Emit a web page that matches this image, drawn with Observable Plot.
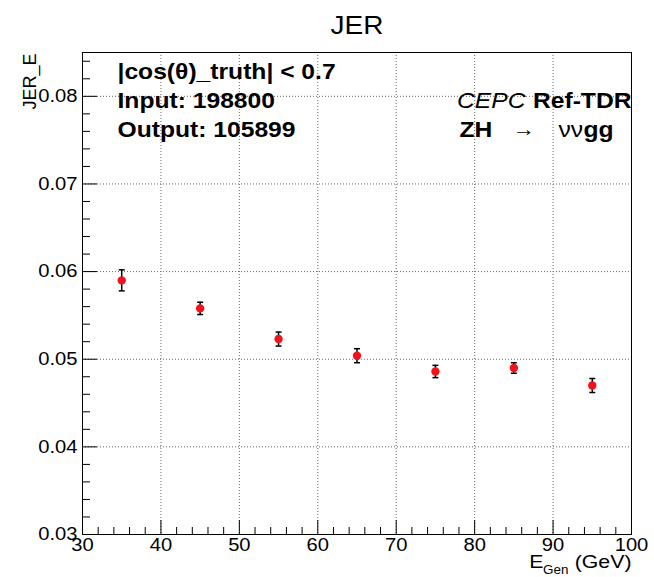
<!DOCTYPE html>
<html><head><meta charset="utf-8">
<script src="https://cdn.jsdelivr.net/npm/d3@7"></script>
<script src="https://cdn.jsdelivr.net/npm/@observablehq/plot@0.6"></script>
<style>html,body{margin:0;padding:0;background:#fff} svg{display:block}</style>
</head><body><div id="chart"></div>
<script>
// ---- data ----
const energyGeV = [35, 45, 55, 65, 75, 85, 95];
const jerValues = [0.0590, 0.0558, 0.0523, 0.0504, 0.0486, 0.0490, 0.0470];
const jerErrors = [0.0012, 0.0007, 0.0008, 0.0008, 0.0007, 0.0006, 0.0008];

const xMajorTicks = [30, 40, 50, 60, 70, 80, 90, 100];
const xMinorTicks = [32,34,36,38,42,44,46,48,52,54,56,58,62,64,66,68,72,74,76,78,82,84,86,88,92,94,96,98];
const yMajorTicks = [0.03, 0.04, 0.05, 0.06, 0.07, 0.08];
const yMinorTicks = [0.032,0.034,0.036,0.038,0.042,0.044,0.046,0.048,0.052,0.054,0.056,0.058,0.062,0.064,0.066,0.068,0.072,0.074,0.076,0.078,0.082,0.084];
const xGridTicks = [40, 50, 60, 70, 80, 90];
const yGridTicks = [0.04, 0.05, 0.06, 0.07, 0.08];

const titleText = "JER";
const yTitle = "JER_E";
const infoLines = ["|cos(θ)_truth| < 0.7", "Input: 198800", "Output: 105899"];

const rows = energyGeV.map((e, i) => ({e, v: jerValues[i], lo: jerValues[i] - jerErrors[i], hi: jerValues[i] + jerErrors[i]}));

const capSymbol = {draw(ctx) { ctx.moveTo(-3, 0); ctx.lineTo(3, 0); }};
const FONT = "'Liberation Sans', Arial, Helvetica, sans-serif";
const gridStyle = {stroke: "#666", strokeOpacity: 1, strokeDasharray: "1,2", strokeWidth: 1};
const label = (t, o) => Plot.text([t], {text: d => d, ...o});

const chart = Plot.plot({
  width: 654, height: 577,
  marginLeft: 82, marginRight: 23, marginTop: 52, marginBottom: 43,
  x: {domain: [30, 100]},
  y: {domain: [0.03, 0.085]},
  style: {fontFamily: FONT, background: "white", color: "black", overflow: "visible"},
  marks: [
    Plot.gridX(xGridTicks, gridStyle),
    Plot.gridY(yGridTicks, gridStyle),
    Plot.axisX(xMinorTicks, {tickSize: -7, tickFormat: () => "", label: null}),
    Plot.axisX(xMajorTicks, {tickSize: -14, tickFormat: () => "", label: null}),
    Plot.axisX(xMajorTicks, {tickSize: 0, tickPadding: 4, fontSize: 18, label: null, tickFormat: d => String(d)}),
    Plot.axisY(yMinorTicks, {tickSize: -8, tickFormat: () => "", label: null}),
    Plot.axisY(yMajorTicks, {tickSize: -15, tickFormat: () => "", label: null}),
    Plot.axisY(yMajorTicks, {tickSize: 0, tickPadding: 5, fontSize: 18, label: null, tickFormat: d => d.toFixed(2)}),
    Plot.ruleX(rows, {x: "e", y1: "lo", y2: "hi", stroke: "black", strokeWidth: 1.5}),
    Plot.dot(rows, {x: "e", y: "hi", symbol: capSymbol, stroke: "black", fill: "none", strokeWidth: 1.5}),
    Plot.dot(rows, {x: "e", y: "lo", symbol: capSymbol, stroke: "black", fill: "none", strokeWidth: 1.5}),
    Plot.dot(rows, {x: "e", y: "v", r: 4.2, fill: "#f2121c", stroke: "none"}),
    Plot.frame({stroke: "black", strokeWidth: 1}),
    // title
    label(titleText, {frameAnchor: "top", dy: -36, fontSize: 25}),
    // y title
    label(yTitle, {frameAnchor: "top-left", dx: -59, dy: 1, rotate: -90, textAnchor: "end", fontSize: 18}),
    // x title
    label("(GeV)", {frameAnchor: "bottom-right", dx: 0, dy: 33, textAnchor: "end", fontSize: 19}),
    label("Gen", {frameAnchor: "bottom-right", dx: -63, dy: 39, textAnchor: "end", fontSize: 12}),
    label("E", {frameAnchor: "bottom-right", dx: -88, dy: 33, textAnchor: "end", fontSize: 19}),
    // info text
    label(infoLines[0], {frameAnchor: "top-left", dx: 35, dy: 11, fontSize: 22, fontWeight: "bold", textAnchor: "start"}),
    label(infoLines[1], {frameAnchor: "top-left", dx: 35, dy: 40, fontSize: 22, fontWeight: "bold", textAnchor: "start"}),
    label(infoLines[2], {frameAnchor: "top-left", dx: 35, dy: 69, fontSize: 22, fontWeight: "bold", textAnchor: "start"}),
    // CEPC label
    label("Ref-TDR", {frameAnchor: "top-right", dx: 0, dy: 40, textAnchor: "end", fontSize: 22, fontWeight: "bold"}),
    label("CEPC", {frameAnchor: "top-right", dx: -106, dy: 40, textAnchor: "end", fontSize: 22, fontStyle: "italic"}),
    label("ZH", {frameAnchor: "top-right", dx: -172, dy: 69, textAnchor: "start", fontSize: 22, fontWeight: "bold"}),
    label("→", {frameAnchor: "top-right", dx: -119, dy: 69, textAnchor: "start", fontSize: 20}),
    label("νν", {frameAnchor: "top-right", dx: -73, dy: 69, textAnchor: "start", fontSize: 22}),
    label("gg", {frameAnchor: "top-right", dx: -48, dy: 69, textAnchor: "start", fontSize: 22, fontWeight: "bold"})
  ]
});
document.getElementById("chart").appendChild(chart);

// The reference's lettering is drawn a little wider than these fonts: stretch horizontal texts.
const STRETCH = 1.12;
chart.querySelectorAll("text").forEach(el => {
  const t = (el.getAttribute("transform") || "") + (el.parentNode.getAttribute && (el.parentNode.getAttribute("transform") || ""));
  if (/rotate/.test(t)) return;
  if (el.querySelector("tspan")) return;
  const len = el.getComputedTextLength();
  if (len > 0) {
    el.setAttribute("textLength", (len * STRETCH).toFixed(2));
    el.setAttribute("lengthAdjust", "spacingAndGlyphs");
  }
});
</script>
</body></html>
